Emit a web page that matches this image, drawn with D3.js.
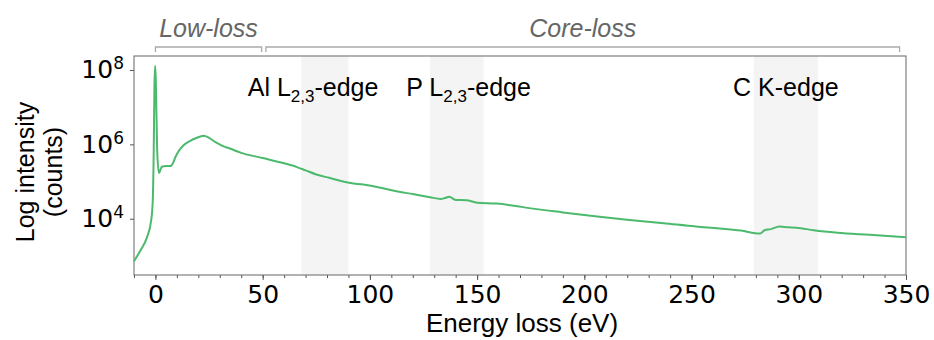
<!DOCTYPE html>
<html>
<head>
<meta charset="utf-8">
<script src="https://d3js.org/d3.v7.min.js"></script>
<style>
    body { margin: 0; background: #fff; }
    svg { display: block; }
    .lbl { font-family: "Liberation Sans", Arial, sans-serif; }
    .tick text { font-family: "DejaVu Sans", sans-serif; }
</style>
</head>
<body>
<svg width="934" height="340"></svg>
<script>
// spectrum: energy loss (eV) and counts
var energy = [-10, -7, -4, -2, -1.25, -0.8, -0.45, -0.1, 0.2, 0.8, 1.6, 3, 5, 7, 8, 9.5, 11, 13, 16, 19, 22.5, 25, 28, 31, 35, 40,
    50, 60, 66, 70, 75, 81, 91, 97, 105, 113, 120, 128, 133, 135, 137, 140, 145, 150, 159, 167, 175, 190, 206, 221, 237,
    252, 263, 273, 282, 284, 287, 291, 295, 299, 307, 318, 333, 350];
var counts = [7.2e2, 1.4e3, 3.1e3, 8.9e3, 3.1e4, 6.9e5, 4.4e7, 1.3e8, 4.4e7, 6.9e5, 1.7e5, 2.5e5, 2.6e5, 2.6e5, 3.0e5, 4.8e5,
    6.8e5, 9.3e5, 1.23e6, 1.48e6, 1.7e6, 1.5e6, 1.15e6, 9.3e5, 7.6e5, 5.9e5,
    4.3e5, 3.1e5, 2.45e5, 2.0e5, 1.55e5, 1.26e5, 9.1e4, 8.3e4, 6.8e4, 5.4e4, 4.6e4, 3.8e4, 3.4e4, 3.6e4, 3.9e4, 3.2e4,
    3.15e4, 2.7e4, 2.55e4, 2.25e4, 1.9e4, 1.48e4, 1.15e4, 9.3e3, 7.6e3,
    6.2e3, 5.5e3, 4.8e3, 4.0e3, 4.9e3, 5.25e3, 6.2e3, 5.9e3, 5.75e3, 4.9e3, 4.2e3, 3.7e3, 3.2e3];

var xTicks = [0, 50, 100, 150, 200, 250, 300, 350];
var xMinorTicks = d3.range(-10, 351, 10);
var yTicks = [1e4, 1e6, 1e8];

var edgeNames = ["Al", "P", "C"];
var edgeShells = [["L", "2,3"], ["L", "2,3"], ["K", ""]];
var edgeStart = [68, 128, 279];
var edgeEnd = [90, 153, 309];
var edgeLabelAt = [73.5, 146, 294];

var regionNames = ["Low-loss", "Core-loss"];
var regionStart = [0, 51.5];
var regionEnd = [49.5, 347];

var svg = d3.select("svg"),
    margin = {top: 56, right: 28, bottom: 65, left: 134},
    width = +svg.attr("width") - margin.left - margin.right,
    height = +svg.attr("height") - margin.top - margin.bottom,
    g = svg.append("g").attr("transform", "translate(" + margin.left + "," + margin.top + ")");

var x = d3.scaleLinear()
    .domain([-10, 350])
    .range([0, width]);

var y = d3.scaleLog()
    .domain([Math.pow(10, 2.487), Math.pow(10, 8.376)])
    .range([height, 0]);

// shaded edge windows
g.selectAll("rect.edge")
    .data(edgeStart)
    .enter().append("rect")
    .attr("class", "edge")
    .attr("x", function (d) { return x(d); })
    .attr("y", 0)
    .attr("width", function (d, i) { return x(edgeEnd[i]) - x(d); })
    .attr("height", height)
    .attr("fill", "#f4f4f4");

// minor x ticks
g.append("g")
    .attr("transform", "translate(0," + height + ")")
    .call(d3.axisBottom(x).tickValues(xMinorTicks).tickSize(3).tickFormat(""))
    .call(function (a) {
        a.select(".domain").remove();
        a.selectAll("line").attr("stroke", "#555");
    });

var xAxis = g.append("g")
    .attr("transform", "translate(0," + height + ")")
    .call(d3.axisBottom(x).tickValues(xTicks).tickSize(5).tickPadding(5).tickFormat(d3.format("d")));
xAxis.select(".domain").remove();
xAxis.selectAll("line").attr("stroke", "#555");
xAxis.selectAll("text").attr("font-size", 25).attr("fill", "#000");

var yAxis = g.append("g")
    .call(d3.axisLeft(y).tickValues(yTicks).tickSize(4).tickPadding(6).tickFormat(""));
yAxis.select(".domain").remove();
yAxis.selectAll("line").attr("stroke", "#555");
yAxis.selectAll("text")
    .attr("font-size", 25)
    .attr("fill", "#000")
    .each(function (d) {
        var t = d3.select(this);
        t.append("tspan").text("10");
        t.append("tspan")
            .attr("font-size", 17)
            .attr("dy", "-0.55em")
            .text(Math.round(Math.log10(d)));
    });

// frame
g.append("rect")
    .attr("width", width)
    .attr("height", height)
    .attr("fill", "none")
    .attr("stroke", "#666")
    .attr("stroke-width", 1);

var line = d3.line()
    .x(function (d, i) { return x(energy[i]); })
    .y(function (d) { return y(d); })
    .curve(d3.curveMonotoneX);

g.append("path")
    .datum(counts)
    .attr("fill", "none")
    .attr("stroke", "#4cba6d")
    .attr("stroke-width", 2)
    .attr("stroke-linejoin", "round")
    .attr("d", line);

// edge labels
edgeNames.forEach(function (name, i) {
    var t = g.append("text")
        .attr("class", "lbl")
        .attr("x", x(edgeLabelAt[i]))
        .attr("y", 40)
        .attr("text-anchor", "middle")
        .attr("font-size", 25)
        .attr("fill", "#000");
    t.append("tspan").text(name + " " + edgeShells[i][0]);
    if (edgeShells[i][1]) {
        t.append("tspan").attr("font-size", 17).attr("dy", "0.35em").text(edgeShells[i][1]);
        t.append("tspan").attr("dy", "-0.24em").text("-edge");
    } else {
        t.append("tspan").text("-edge");
    }
});

// region brackets above the plot
regionNames.forEach(function (name, i) {
    var x0 = margin.left + x(regionStart[i]),
        x1 = margin.left + x(regionEnd[i]);
    svg.append("path")
        .attr("d", "M" + x0 + ",52V47H" + x1 + "V52")
        .attr("fill", "none")
        .attr("stroke", "#aaa")
        .attr("stroke-width", 1.3);
    svg.append("text")
        .attr("class", "lbl")
        .attr("x", (x0 + x1) / 2)
        .attr("y", 37)
        .attr("text-anchor", "middle")
        .attr("font-size", 25)
        .attr("font-style", "italic")
        .attr("fill", "#666")
        .text(name);
});

// axis titles
svg.append("text")
    .attr("class", "lbl")
    .attr("x", margin.left + width / 2 + 2)
    .attr("y", 332)
    .attr("text-anchor", "middle")
    .attr("font-size", 26)
    .text("Energy loss (eV)");

var yTitle = svg.append("text")
    .attr("class", "lbl")
    .attr("transform", "translate(34,172) rotate(-90)")
    .attr("text-anchor", "middle")
    .attr("font-size", 25);
yTitle.append("tspan").attr("x", 0).attr("dy", 0).text("Log intensity");
yTitle.append("tspan").attr("x", 0).attr("dy", "1.1em").text("(counts)");
</script>
</body>
</html>
